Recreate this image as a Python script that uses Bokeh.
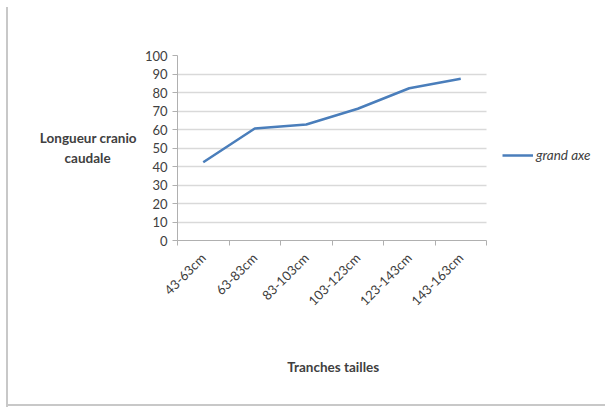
import numpy as np
from bokeh.plotting import figure
from bokeh.models import (FixedTicker, Legend, LegendItem, Range1d, ColumnDataSource, InlineStyleSheet)
from bokeh.embed import file_html
from bokeh.resources import INLINE

categories = ["43-63cm", "63-83cm", "83-103cm", "103-123cm", "123-143cm", "143-163cm"]
grand_axe = [42.3, 60.5, 62.7, 71.2, 82.3, 87.4]
y_ticks = list(range(0, 101, 10))
series_name = "grand axe"
x_title = "Tranches tailles"
y_title = "Longueur cranio\ncaudale"

FONT = "Lato"
TXT = "#404040"
GRID = "#d9d9d9"
NBSP = "\u00a0"

n = len(categories)
xs = [i + 0.5 for i in range(n)]
src = ColumnDataSource(dict(x=xs, y=grand_axe))

# frame spans 177..600 px; categories occupy 177..486 px, legend sits to the right
FRAME_L, CAT_R, FRAME_R = 177, 486, 600
x_end = n * (FRAME_R - FRAME_L) / (CAT_R - FRAME_L)

p = figure(width=605, height=408, output_backend="svg", toolbar_location=None,
           x_range=Range1d(0, x_end), y_range=Range1d(0, 100),
           min_border_left=FRAME_L, min_border_right=605 - FRAME_R, min_border_top=55, min_border_bottom=168)
p.outline_line_color = None
p.background_fill_color = "white"
p.border_fill_color = "white"

r = p.line("x", "y", source=src, line_color="#4a7ebb", line_width=2.5)

# x axis
p.xaxis.ticker = FixedTicker(ticks=xs, minor_ticks=list(range(n + 1)))
p.xaxis.bounds = (0, n)
p.xaxis.major_label_overrides = {x: c for x, c in zip(xs, categories)}
p.xaxis.major_label_orientation = np.pi / 4
p.xaxis.major_tick_out = 0
p.xaxis.major_tick_in = 0
p.xaxis.minor_tick_out = 5
p.xaxis.minor_tick_in = 0
p.xaxis.minor_tick_line_color = "#b0b0b0"
p.xaxis.axis_line_color = "#b0b0b0"
p.xaxis.major_label_text_font = FONT
p.xaxis.major_label_text_font_size = "13px"
p.xaxis.major_label_text_color = TXT
p.xaxis.major_label_standoff = 10
# trailing no-break spaces shift the centred title over the category area
p.xaxis.axis_label = x_title + NBSP * 34
p.xaxis.axis_label_text_font = FONT
p.xaxis.axis_label_text_font_size = "13.5px"
p.xaxis.axis_label_text_font_style = "bold"
p.xaxis.axis_label_text_color = TXT
p.xaxis.axis_label_standoff = 42
p.xgrid.visible = False

# y axis
p.yaxis.ticker = FixedTicker(ticks=y_ticks, minor_ticks=[])
p.yaxis.major_tick_out = 5
p.yaxis.major_tick_in = 0
p.yaxis.major_tick_line_color = "#b0b0b0"
p.yaxis.axis_line_color = "#b0b0b0"
p.yaxis.major_label_text_font = FONT
p.yaxis.major_label_text_font_size = "13px"
p.yaxis.major_label_text_color = TXT
p.yaxis.major_label_standoff = 5
p.yaxis.axis_label = y_title + NBSP * 8
p.yaxis.axis_label_orientation = "horizontal"
p.yaxis.axis_label_text_font = FONT
p.yaxis.axis_label_text_font_size = "13.5px"
p.yaxis.axis_label_text_font_style = "bold"
p.yaxis.axis_label_text_color = TXT
p.yaxis.axis_label_text_line_height = 1.3
p.yaxis.axis_label_standoff = 5
p.ygrid.grid_line_color = GRID
p.ygrid.grid_line_width = 1.5
p.ygrid.cross_bounds = (0, n)

legend = Legend(items=[LegendItem(label=series_name, renderers=[r])],
                location=(CAT_R + 16 - FRAME_L, 75), padding=0, margin=0, border_line_color=None,
                background_fill_alpha=0, glyph_width=31, label_text_font=FONT,
                label_text_font_size="13.5px", label_text_font_style="italic",
                label_text_color=TXT, label_standoff=3)
p.add_layout(legend, "center")

# outer chart frame (left and bottom edges visible)
p.stylesheets = [InlineStyleSheet(css="""
:host { position: relative; }
:host::before { content: ''; position: absolute; left: 6px; top: 7px; width: 2px; height: 400px;
  background: #c8c8c8; z-index: 10; pointer-events: none; }
:host::after { content: ''; position: absolute; left: 6px; top: 404px; width: 599px; height: 2px;
  background: #c8c8c8; z-index: 10; pointer-events: none; }
""")]

open("out.html", "w").write(file_html(p, INLINE))
